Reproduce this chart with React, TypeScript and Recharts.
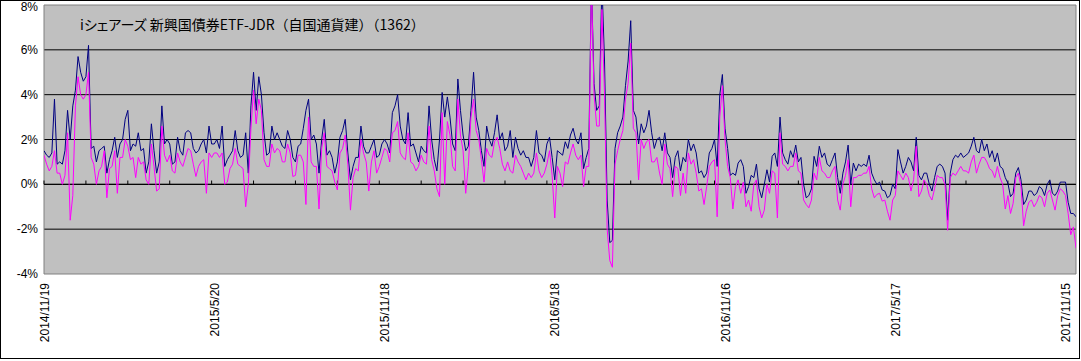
import React from 'react';
import { LineChart, Line, XAxis, YAxis, CartesianGrid, ReferenceLine, ReferenceArea } from 'recharts';

// one value every STEP trading days, starting 2014/11/19
const STEP = 2;
const LAST_INDEX = 788;
const LABEL_EVERY = 130;
const MINOR_EVERY = 32;
const TICK_LABELS = ['2014/11/19', '2015/5/20', '2015/11/18', '2016/5/18', '2016/11/16', '2017/5/17', '2017/11/15'];
const Y_TICKS = [-4, -2, 0, 2, 4, 6, 8];
const TITLE_MAIN = 'iシェアーズ 新興国債券ETF-JDR';
const TITLE_SUB = '（自国通貨建）（1362）';

const navy = [
  1.5, 1.3, 1.2, 1.4, 3.8, 0.9, 1.0, 0.9, 1.5, 3.3,
  2.0, 3.5, 4.2, 5.7, 5.0, 4.6, 4.8, 6.2, 1.6, 1.7,
  1.0, 1.5, 1.6, 1.7, 0.5, 1.1, 1.5, 2.1, 1.2, 1.8,
  2.0, 2.9, 3.3, 1.5, 1.8, 1.7, 2.3, 1.5, 1.6, 0.5,
  1.0, 2.7, 1.5, 0.5, 1.0, 3.5, 1.8, 2.0, 1.8, 0.9,
  1.0, 2.1, 1.5, 1.3, 2.3, 2.4, 2.3, 1.6, 1.4, 1.5,
  1.8, 2.0, 1.4, 2.6, 1.8, 1.8, 2.0, 1.6, 2.6, 0.8,
  1.1, 1.3, 1.5, 2.4, 1.5, 1.2, 1.3, 2.3, 0.5, 3.5,
  5.0, 3.3, 4.8, 4.0, 2.3, 1.3, 1.4, 2.6, 2.0, 2.3,
  2.0, 1.7, 1.6, 2.4, 2.0, 1.2, 1.0, 1.7, 1.8, 2.5,
  3.3, 3.8, 2.0, 2.2, 1.8, 0.5, 2.0, 2.9, 1.3, 1.5,
  1.2, 0.5, 1.0, 2.1, 2.4, 2.9, 1.4, 0.2, 0.8, 1.2,
  1.2, 2.6, 1.7, 1.4, 1.4, 1.7, 2.0, 1.2, 1.3, 1.8,
  2.0, 1.8, 1.4, 3.2, 3.5, 4.0, 2.6, 2.0, 1.8, 3.2,
  1.7, 1.8, 1.4, 1.0, 1.7, 1.5, 1.4, 3.5, 2.0, 1.1,
  0.6, 2.0, 4.1, 3.0, 3.9, 3.0, 1.8, 1.5, 4.7, 3.3,
  2.2, 1.5, 1.7, 3.3, 5.0, 3.0, 2.4, 1.5, 0.8, 2.6,
  2.0, 1.7, 2.3, 3.1, 2.0, 2.3, 1.5, 1.7, 2.4, 1.2,
  2.1, 1.6, 1.3, 1.5, 1.2, 1.2, 0.8, 1.2, 2.4, 1.4,
  1.3, 1.0, 1.8, 2.1, 1.2, 0.2, 1.5, 1.4, 1.3, 1.9,
  1.6, 2.2, 2.5, 2.0, 1.8, 2.3, 0.7, 1.2, 1.6, 9.0,
  4.5, 3.3, 3.5, 9.0, 5.5, -0.7, -2.6, -2.5, 1.6, 2.3,
  2.6, 3.0, 4.4, 5.5, 7.3, 3.3, 3.0, 1.8, 2.7, 2.3,
  2.6, 3.3, 2.3, 1.6, 2.0, 2.1, 1.5, 2.3, 1.4, 1.2,
  0.3, 1.2, 1.5, 0.6, 1.2, 1.0, 2.0, 1.5, 1.8, 1.4,
  0.5, 0.6, 0.3, 0.5, 1.4, 1.6, 2.0, 0.8, 4.0, 4.9,
  2.5, 1.6, 0.4, 0.5, 0.4, 0.95, 1.1, 0.8, -0.4, -0.1,
  0.4, 0.3, 0.9, -0.2, -0.6, 0.0, 0.65, 0.1, 1.25, 1.4,
  0.8, 3.0, 1.4, 1.1, 0.9, 1.5, 1.2, 1.75, 1.0, 1.2,
  0.0, -0.6, -0.5, -0.2, 1.25, 0.8, 1.7, 1.2, 1.4, 0.9,
  0.8, 1.1, 1.4, 0.3, -0.4, 0.5, 1.0, 1.75, 0.0, 0.95,
  0.6, 0.9, 0.8, 0.9, 0.8, 1.3, 0.5, 0.2, 0.0, 0.1,
  -0.25, -0.3, -0.6, -0.5, 0.0, -0.2, 1.55, 1.0, 0.5, 0.8,
  1.2, 1.0, 0.6, 2.1, 0.4, 0.2, 0.5, 0.5, 0.0, -0.3,
  0.3, 0.8, 0.9, 0.8, 0.5, -1.6, 0.5, 1.1, 1.3, 1.2,
  1.4, 1.2, 1.3, 1.4, 1.7, 2.1, 1.5, 1.4, 2.0, 1.5,
  1.8, 1.2, 1.5, 1.0, 1.4, 0.8, 0.7, 0.3, 0.05, -0.55,
  -0.4, 0.5, 0.75, 0.2, -0.9, -0.7, -0.3, -0.3, -0.5, -0.4,
  -0.1, -0.2, -0.5, 0.0, 0.2, -0.4, -0.5, -0.3, 0.1, 0.1,
  0.1, -0.8, -1.3, -1.3, -1.45,
];

const magenta = [
  1.3, 0.9, 0.6, 0.8, 1.5, 0.5, 0.5, 0.0, 0.4, 2.3,
  -1.6, -0.5, 3.5, 4.8, 4.0, 3.8, 4.0, 5.0, 1.2, 0.9,
  0.0, 0.6, 0.8, 1.5, -0.6, 0.7, 0.8, 1.5, -0.4, 1.2,
  1.2, 2.0, 1.7, 1.1, 1.2, 0.3, 1.2, 0.9, 1.0, 0.2,
  0.0, 1.8, 0.8, -0.3, -0.2, 2.6, 1.3, 1.0, 1.3, 0.6,
  0.5, 1.4, 1.0, 0.8, 1.2, 1.6, 1.5, 0.9, 0.35, 0.8,
  1.0, 1.1, -0.4, 1.4, 1.2, 1.4, 1.4, 1.2, 1.4, 0.0,
  0.1, 0.7, 0.9, 1.6, 0.9, 0.8, 0.7, -1.0, 0.0, 2.5,
  4.2, 2.7, 3.8, 3.3, 1.1, 0.8, 0.8, 1.8, 1.4, 1.6,
  1.5, 1.0, 1.0, 1.8, 1.4, 0.35, 0.4, 1.3, 1.3, 1.0,
  -0.9, 3.0, 1.0, 0.8, 0.8, -1.1, 1.6, 2.3, 0.8, 0.7,
  0.6, 0.1, -0.25, 1.4, 1.6, 2.2, 0.9, -1.15, 0.3, 0.7,
  0.6, 2.0, 1.4, 1.0, -0.3, 1.0, 1.5, 0.5, 0.8, 1.2,
  1.6, 1.5, 1.0, 2.3, 2.4, 2.8, 1.4, 1.2, 1.1, 2.3,
  1.0, 0.9, 0.6, 0.8, 1.3, 1.0, 0.9, 2.6, 1.1, 0.6,
  -0.2, -0.55, 3.2, 0.0, 2.8, 2.2, 0.8, 0.6, 3.8, 2.2,
  1.5, -0.4, 0.8, 3.0, 3.8, 2.4, 2.0, 1.1, 0.1, 1.6,
  1.3, 1.2, 1.9, 2.1, 1.6, 0.9, 0.6, 1.0, 0.6, 0.5,
  1.3, 1.0, 0.8, 0.5, 0.2, 0.5, 0.3, 0.5, 1.4, 0.6,
  0.3, 0.5, 0.9, 1.5, 0.4, -1.5, 0.8, 0.5, -0.1, 1.0,
  0.9, 1.4, 1.8, 1.3, 1.1, 1.3, -0.1, 0.8, 0.8, 9.0,
  4.0, 2.6, 2.6, 7.8, 4.0, -2.0, -3.4, -3.7, 0.9, 1.5,
  2.0, 2.4, 3.8, 4.5, 6.3, 2.5, 2.3, 0.2, 2.0, 1.6,
  1.9, 2.0, 1.0, 1.0, 1.2, 0.5, 0.0, 1.8, 0.9, 0.7,
  -0.55, 0.8, 0.7, -0.5, 0.5, -0.4, 1.4, 0.9, 1.1, 0.5,
  -0.3, -0.2, -0.9, -0.1, 0.8, 1.0, 1.1, -1.45, 3.0, 4.4,
  2.0, 0.8, 0.3, -1.1, -0.1, 0.2, -0.4, 0.1, -1.0, -0.7,
  -1.2, 0.0, 0.2, -1.0, -1.5, -1.15, 0.0, -0.4, 0.6, 0.5,
  -1.5, 2.3, 0.9, 0.8, 0.6, 0.8, 0.8, 1.4, 0.6, 0.5,
  -0.7, -0.9, -1.05, -0.7, 0.5, 0.2, 1.2, 0.6, 0.5, 0.3,
  0.3, 0.6, 0.8, -0.7, -1.15, 0.0, 0.4, 1.1, -1.0, 0.3,
  0.3, 0.4, 0.4, 0.5, 0.5, 0.8, -0.2, -0.6, -0.45, -0.4,
  -0.75, -0.7, -1.2, -1.6, -0.7, -0.5, 0.6, 0.4, 0.2, 0.5,
  0.3, -0.3, 0.2, 1.7, -0.55, -0.3, 0.2, 0.0, -0.5, -0.7,
  -0.2, 0.4, 0.3, 0.3, 0.0, -2.05, 0.3, 0.5, 0.4, 0.6,
  0.8, 0.6, 0.6, 0.5, 1.0, 1.3, 0.5, 0.9, 1.2, 1.2,
  1.0, 0.7, 0.6, 0.3, 0.8, 0.3, 0.0, -1.1, -0.5, -1.3,
  -0.85, 0.3, 0.5, -0.1, -1.85, -1.2, -0.8, -0.7, -1.0, -0.8,
  -0.5, -0.6, -1.0, -0.4, -0.25, -0.7, -1.15, -0.5, -0.2, -0.3,
  -0.5, -1.3, -2.25, -1.9, -2.85,
];

const data = navy.map((v, k) => ({ i: k * STEP, navy: v, magenta: magenta[k] }));
const labelTicks = TICK_LABELS.map((_, n) => n * LABEL_EVERY);
const minorTicks: number[] = [];
for (let t = 0; t <= LAST_INDEX; t += MINOR_EVERY) minorTicks.push(t);

const AXIS_FONT = "'Liberation Sans', Arial, sans-serif";

const XTick = (props: any) => {
  const { x, y, payload } = props;
  const idx = Math.round(payload.value / LABEL_EVERY);
  return (
    <g transform={`translate(${x + 4.5},${y + 1}) rotate(-90)`}>
      <text x={0} y={0} textAnchor="end" fontSize={12} fontFamily={AXIS_FONT} fill="#000">
        {TICK_LABELS[idx]}
      </text>
    </g>
  );
};

const YTick = (props: any) => {
  const { x, y, payload } = props;
  const dy = payload.value === Y_TICKS[Y_TICKS.length - 1] ? 6 : 4;
  return (
    <text x={x} y={y} dy={dy} textAnchor="end" fontSize={12} fontFamily={AXIS_FONT} fill="#000">
      {`${payload.value}%`}
    </text>
  );
};

export default function App() {
  return (
    <div style={{ position: 'absolute', left: 0, top: 0, width: 1081, height: 361, background: '#fff' }}>
      <LineChart width={1081} height={361} data={data} margin={{ top: 5, right: 5, left: 4, bottom: 0 }}>
        <CartesianGrid
          fill="#c0c0c0"
          fillOpacity={1}
          stroke="#000"
          vertical={false}
          horizontalValues={[-2, 0, 2, 4, 6]}
        />
        <XAxis
          dataKey="i"
          type="number"
          domain={[0, LAST_INDEX]}
          ticks={labelTicks}
          interval={0}
          allowDataOverflow
          axisLine={false}
          tickLine={false}
          height={87}
          tick={<XTick />}
        />
        <YAxis
          type="number"
          domain={[-4, 8]}
          ticks={Y_TICKS}
          interval={0}
          allowDataOverflow
          axisLine={false}
          tickLine={false}
          tickMargin={0}
          width={40}
          tick={<YTick />}
        />
        <ReferenceArea x1={0} x2={LAST_INDEX} y1={-4} y2={8} fill="none" stroke="#808080" strokeWidth={1} />
        <ReferenceLine y={0} stroke="#000" />
        {minorTicks.map((t) => (
          <ReferenceLine key={t} segment={[{ x: t, y: 0 }, { x: t, y: 0.17 }]} stroke="#000" />
        ))}
        <Line type="linear" dataKey="navy" stroke="#000080" strokeWidth={1} dot={false} isAnimationActive={false} />
        <Line type="linear" dataKey="magenta" stroke="#ff00ff" strokeWidth={1} dot={false} isAnimationActive={false} />
      </LineChart>
      <div
        style={{
          position: 'absolute',
          left: 80,
          top: 14,
          fontSize: 14,
          lineHeight: '20px',
          fontFamily: "'Noto Sans CJK JP', sans-serif",
          color: '#000',
          whiteSpace: 'nowrap',
        }}
      >
        <span style={{ fontFeatureSettings: '"palt"' }}>{TITLE_MAIN}</span>
        <span>{TITLE_SUB}</span>
      </div>
      <div
        style={{
          position: 'absolute',
          left: 0,
          top: 0,
          width: 1078,
          height: 357,
          border: '1px solid #000',
          pointerEvents: 'none',
        }}
      />
    </div>
  );
}
